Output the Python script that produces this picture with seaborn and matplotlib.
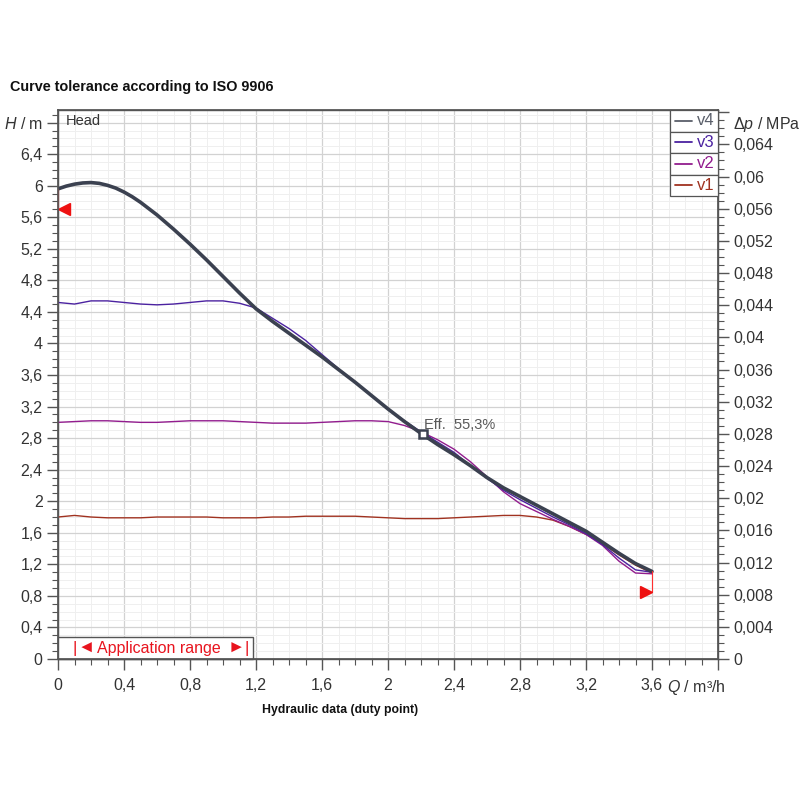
import numpy as np
import pandas as pd
import seaborn as sns
import matplotlib.pyplot as plt
from matplotlib.patches import Rectangle
from matplotlib.ticker import MultipleLocator, FuncFormatter

# flow rate Q (m3/h) and head H (m)
q = [0.0, 0.1, 0.2, 0.3, 0.4, 0.5, 0.6, 0.7, 0.8, 0.9, 1.0, 1.1, 1.2, 1.3,
     1.4, 1.5, 1.6, 1.7, 1.8, 1.9, 2.0, 2.1, 2.2, 2.3, 2.4, 2.5, 2.6, 2.7,
     2.8, 2.9, 3.0, 3.1, 3.2, 3.3, 3.4, 3.5, 3.6]

# v4 has a few extra readings around the peak of the curve
q_v4 = [0.0, 0.05, 0.1, 0.15, 0.2, 0.25, 0.3, 0.35, 0.4, 0.45, 0.5, 0.6, 0.7,
        0.8, 0.9, 1.0, 1.1, 1.2, 1.3, 1.4, 1.5, 1.6, 1.7, 1.8, 1.9, 2.0, 2.1,
        2.2, 2.3, 2.4, 2.5, 2.6, 2.7, 2.8, 2.9, 3.0, 3.1, 3.2, 3.3, 3.4, 3.5, 3.6]
h_v4 = [5.96, 5.995, 6.02, 6.035, 6.04, 6.03, 6.005, 5.97, 5.92, 5.86, 5.79,
        5.63, 5.45, 5.26, 5.06, 4.85, 4.64, 4.44, 4.28, 4.13, 3.98, 3.83,
        3.67, 3.51, 3.34, 3.17, 3.01, 2.86, 2.72, 2.59, 2.45, 2.30, 2.17,
        2.06, 1.95, 1.84, 1.73, 1.62, 1.48, 1.34, 1.21, 1.11]
h_v3 = [4.52, 4.50, 4.54, 4.54, 4.52, 4.50, 4.49, 4.50, 4.52, 4.54, 4.54,
        4.51, 4.45, 4.32, 4.19, 4.04, 3.86, 3.68, 3.51, 3.34, 3.17, 3.02,
        2.88, 2.75, 2.62, 2.45, 2.29, 2.14, 2.02, 1.91, 1.80, 1.70, 1.59,
        1.45, 1.28, 1.13, 1.10]
h_v2 = [3.00, 3.01, 3.02, 3.02, 3.01, 3.00, 3.00, 3.01, 3.02, 3.02, 3.02,
        3.01, 3.00, 2.99, 2.99, 2.99, 3.00, 3.01, 3.02, 3.02, 3.01, 2.96,
        2.88, 2.78, 2.66, 2.50, 2.31, 2.12, 1.97, 1.87, 1.77, 1.68, 1.58,
        1.44, 1.24, 1.09, 1.08]
h_v1 = [1.80, 1.82, 1.80, 1.79, 1.79, 1.79, 1.80, 1.80, 1.80, 1.80, 1.79,
        1.79, 1.79, 1.80, 1.80, 1.81, 1.81, 1.81, 1.81, 1.80, 1.79, 1.78,
        1.78, 1.78, 1.79, 1.80, 1.81, 1.82, 1.82, 1.80, 1.76, 1.68, 1.58,
        1.46, 1.32, 1.19, 1.09]

curves = ['v4', 'v3', 'v2', 'v1']
colors = {'v4': '#3b4150', 'v3': '#4b22a0', 'v2': '#921c8e', 'v1': '#a03220'}
label_colors = {'v4': '#5a5f6a', 'v3': '#4b22a0', 'v2': '#921c8e', 'v1': '#a03220'}

duty_q, duty_h = 2.21, 2.85
eff_text = 'Eff.  55,3%'
tol_left = (0.0, 5.7)
tol_right = (3.6, 0.85)
app_range_end = 1.18

df = pd.DataFrame({
    'Q': q_v4 + q * 3,
    'H': h_v4 + h_v3 + h_v2 + h_v1,
    'curve': ['v4'] * len(q_v4) + ['v3'] * len(q) + ['v2'] * len(q) + ['v1'] * len(q),
})

sns.set_theme(style='white')
plt.rcParams['font.family'] = ['Liberation Sans', 'DejaVu Sans']
plt.rcParams['mathtext.fontset'] = 'custom'
plt.rcParams['mathtext.rm'] = 'Liberation Sans'
plt.rcParams['mathtext.it'] = 'Liberation Sans:italic'

fig = plt.figure(figsize=(8, 8), dpi=100)
ax = fig.add_axes([0.0725, 0.17625, 0.825, 0.68625])

ymax = 6.96
ax.set_xlim(0, 4.0)
ax.set_ylim(0, ymax)

# curves, thin ones first, v4 on top
for name, lw, z in [('v1', 1.0, 3), ('v2', 1.0, 3), ('v3', 1.0, 3), ('v4', 2.6, 4)]:
    sns.lineplot(data=df[df['curve'] == name], x='Q', y='H', color=colors[name],
                 linewidth=lw, ax=ax, zorder=z, legend=False,
                 solid_joinstyle='round', solid_capstyle='round')

# tolerance markers
ax.plot([tol_left[0], tol_left[0]], [tol_left[1], h_v4[0]], color='#ff3030', lw=0.8, zorder=5, clip_on=False)
ax.plot([tol_left[0] + 0.035], [tol_left[1]], marker='<', color='#ee1111', ms=9, zorder=6, clip_on=False)
ax.plot([tol_right[0], tol_right[0]], [tol_right[1], h_v4[-1]], color='#ff3030', lw=0.8, zorder=5)
ax.plot([tol_right[0] - 0.035], [tol_right[1]], marker='>', color='#ee1111', ms=9, zorder=6)

# duty point
ax.plot([duty_q], [duty_h], marker='s', ms=6, mfc='white', mec='#3b4150', mew=1.8, zorder=7)
ax.text(duty_q + 0.01, duty_h + 0.12, eff_text, color='#5a5a5a', fontsize=10.5,
        va='center', ha='left', zorder=7)

# application range box
ax.add_patch(Rectangle((0, 0), app_range_end, 0.28, facecolor='white',
                       edgecolor='#555555', lw=1.0, zorder=5, clip_on=False))
red = '#e8141e'
ax.text(0.09, 0.135, '|', color=red, fontsize=12, va='center', ha='left', zorder=6)
ax.text(0.118, 0.135, '\u25c4', color=red, fontsize=12.5, va='center', ha='left', zorder=6)
ax.text(0.235, 0.135, 'Application range', color=red, fontsize=11.5,
        va='center', ha='left', zorder=6)
ax.text(1.025, 0.135, '\u25ba', color=red, fontsize=12.5, va='center', ha='left', zorder=6)
ax.text(1.128, 0.135, '|', color=red, fontsize=12, va='center', ha='left', zorder=6)

# grid and ticks
ax.xaxis.set_major_locator(MultipleLocator(0.4))
ax.xaxis.set_minor_locator(MultipleLocator(0.1))
ax.yaxis.set_major_locator(MultipleLocator(0.4))
ax.yaxis.set_minor_locator(MultipleLocator(0.1))
ax.grid(which='major', color='#d2d2d2', lw=0.9, zorder=0)
ax.grid(which='minor', color='#efefef', lw=0.7, zorder=0)
ax.set_axisbelow(True)


def comma(v, pos):
    return f'{v:.3f}'.rstrip('0').rstrip('.').replace('.', ',')


def xfmt(v, pos):
    return '' if v > 3.7 else comma(v, pos)


def yfmt(v, pos):
    return '$H$ / m' if v > 6.7 else comma(v, pos)


ax.xaxis.set_major_formatter(FuncFormatter(xfmt))
ax.yaxis.set_major_formatter(FuncFormatter(yfmt))
ax.tick_params(axis='x', which='major', pad=6)
ax.tick_params(axis='y', which='major', pad=3)
ax.tick_params(which='major', length=8, width=1, color='#555555', labelsize=11.5,
               labelcolor='#333333', bottom=True, left=True)
ax.tick_params(which='minor', length=4, width=0.8, color='#555555', bottom=True, left=True)
ax.set_xlabel('')
ax.set_ylabel('')
for s in ax.spines.values():
    s.set_color('#555555')
    s.set_linewidth(1.0)

ax.annotate('$Q$ / m\u00b3/h', xy=(3.69, 0), xycoords=('data', 'axes fraction'),
            xytext=(0, -13.5), textcoords='offset points', ha='left', va='top',
            fontsize=11.5, color='#333333', annotation_clip=False)
ax.text(0.012, 0.993, 'Head', transform=ax.transAxes, ha='left', va='top',
        fontsize=10.5, color='#333333')

# right axis: pressure difference
ax2 = ax.twinx()
ax2.set_ylim(0, ymax * 0.00981)
ax2.yaxis.set_major_locator(MultipleLocator(0.004))
ax2.yaxis.set_minor_locator(MultipleLocator(0.001))
ax2.yaxis.set_major_formatter(FuncFormatter(lambda v, p: '' if v > 0.065 else comma(v, p)))
ax2.tick_params(which='major', length=8, width=1, color='#555555', labelsize=11.5,
                labelcolor='#333333', pad=3, right=True)
ax2.tick_params(which='minor', length=4, width=0.8, color='#555555', right=True)
ax2.grid(False)
for s in ax2.spines.values():
    s.set_color('#555555')
ax2.text(1.023, 0.973, '$\\Delta p$ / MPa', transform=ax2.transAxes, ha='left', va='center',
         fontsize=11.5, color='#333333')

# legend as boxed cells in the top right corner
cell_h = 0.0392
x0 = 0.927
for i, name in enumerate(curves):
    y_top = 1.0 - i * cell_h
    ax2.add_patch(Rectangle((x0, y_top - cell_h), 1.0 - x0, cell_h, transform=ax2.transAxes,
                            facecolor='white', edgecolor='#555555', lw=0.9, zorder=8, clip_on=False))
    yc = y_top - cell_h / 2
    ax2.plot([x0 + 0.008, x0 + 0.034], [yc, yc], transform=ax2.transAxes, color=label_colors[name],
             lw=1.3, zorder=9, clip_on=False)
    ax2.text(x0 + 0.041, yc, name, transform=ax2.transAxes, ha='left', va='center',
             fontsize=12, color=label_colors[name], zorder=9)

fig.text(0.0125, 0.891, 'Curve tolerance according to ISO 9906', fontsize=10.4,
         fontweight='bold', ha='left', va='center', color='#111111')
fig.text(0.425, 0.1125, 'Hydraulic data (duty point)', fontsize=8.8,
         fontweight='bold', ha='center', va='center', color='#111111')

fig.savefig('out.png', dpi=100, facecolor='white')
